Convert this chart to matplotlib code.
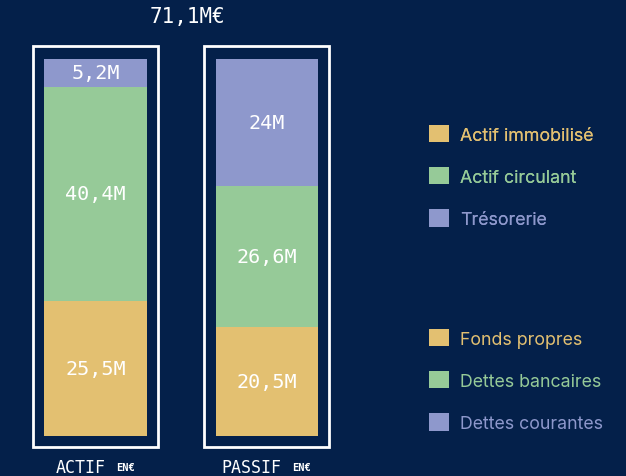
import matplotlib
matplotlib.use("Agg")
import matplotlib.pyplot as plt
from matplotlib.patches import Rectangle, Patch

# Données (M€)
bars = ["ACTIF", "PASSIF"]
actif_labels = ["Actif immobilisé", "Actif circulant", "Trésorerie"]
actif_values = [25.5, 40.4, 5.2]
passif_labels = ["Fonds propres", "Dettes bancaires", "Dettes courantes"]
passif_values = [20.5, 26.6, 24.0]
total_label = "71,1M€"

bg = "#04204a"
colors = ["#e3c071", "#96ca98", "#8e98cc"]
mono = "DejaVu Sans Mono"

def fmt(v):
    s = ("%g" % v).replace(".", ",")
    return s + "M"

fig = plt.figure(figsize=(6.26, 4.77), dpi=100, facecolor=bg)
W, H = 626, 477
# axes: pixel x 0..400, pixel y 60..437
ax = fig.add_axes([0, (H - 437) / H, 400 / W, 377 / H])
ax.set_facecolor(bg)
ax.set_xlim((0 - 95.5) / 171, (400 - 95.5) / 171)
total = sum(actif_values)
ax.set_ylim(0, total)
ax.axis("off")

width = 102 / 171
ppx = total / 377   # unités par pixel (vertical)
xpx = 1 / 171       # unités par pixel (horizontal)
for i, vals in enumerate([actif_values, passif_values]):
    bottom = 0
    for v, c in zip(vals, colors):
        ax.bar(i, v, width=width, bottom=bottom, color=c, linewidth=0)
        ax.text(i, bottom + v / 2, fmt(v), ha="center", va="center",
                color="white", fontsize=14.5, family=mono)
        bottom += v
    # cadre
    fx = 125 / 171
    ax.add_patch(Rectangle((i - fx / 2, -11 * ppx), fx, total + 24 * ppx,
                           fill=False, edgecolor="white", linewidth=2, clip_on=False))
    # étiquette centrée sous le cadre
    main_w = len(bars[i]) * 10
    group_w = main_w + 11 + 19
    left = -group_w / 2
    ax.text(i + (left + main_w) * xpx, -31 * ppx, bars[i], ha="right", va="center",
            color="white", fontsize=12, family=mono)
    ax.text(i + (left + main_w + 11) * xpx, -31.5 * ppx, "EN€", ha="left", va="center",
            color="white", fontsize=7.5, family=mono, fontweight="bold")

ax.text((187.5 - 95.5) * xpx, total + 43 * ppx, total_label, ha="center", va="center",
        color="white", fontsize=15, family=mono)

def add_legend(labels, y):
    handles = [Patch(facecolor=c, edgecolor="none") for c in colors]
    leg = fig.legend(handles, labels, loc="upper left", bbox_to_anchor=(429 / W, y),
                     frameon=False, labelcolor=colors, borderpad=0, borderaxespad=0,
                     handlelength=1.1, handleheight=1.1, handletextpad=0.65,
                     labelspacing=1.33, prop={"family": "Inter", "size": 12.8})
    return leg

leg1 = add_legend(actif_labels, 1 - 126 / H)
fig.add_artist(leg1)
add_legend(passif_labels, 1 - 330 / H)

fig.savefig("out.png", dpi=100, facecolor=bg)
